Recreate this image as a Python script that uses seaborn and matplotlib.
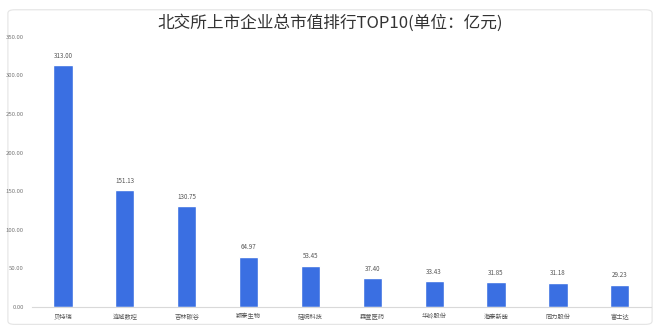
import matplotlib
matplotlib.use("Agg")
import matplotlib.pyplot as plt
import seaborn as sns
import pandas as pd
from matplotlib.patches import FancyBboxPatch

companies = ["贝特瑞", "连城数控", "吉林碳谷", "颖泰生物", "硅烷科技",
             "森萱医药", "华岭股份", "海泰新能", "同力股份", "富士达"]
values = [313.00, 151.13, 130.75, 64.97, 53.45, 37.40, 33.43, 31.85, 31.18, 29.23]
yticks = [0, 50, 100, 150, 200, 250, 300, 350]

sns.set_theme(style="white")
plt.rcParams['font.family'] = ['Noto Sans CJK SC', 'DejaVu Sans']

df = pd.DataFrame({"company": companies, "value": values})

fig = plt.figure(figsize=(6.6, 3.26), dpi=100)
fig.patch.set_facecolor("white")
card = FancyBboxPatch((0.012, 0.005), 0.976, 0.965, boxstyle="round,pad=0,rounding_size=0.01",
                      transform=fig.transFigure, facecolor="none", edgecolor="#e4e4e4",
                      lw=0.8, zorder=-5)
fig.patches.append(card)

ax = fig.add_axes([0.0485, 0.058, 0.9375, 0.829])
sns.barplot(data=df, x="company", y="value", color="#3a6fe2", width=0.31, ax=ax, saturation=1)
ax.set_xlim(-0.5, 9.5)
ax.set_ylim(0, 350)
ax.set_yticks(yticks)
ax.set_yticklabels([f"{v:.2f}" for v in yticks], fontsize=4.3, color="#777777")
ax.set_xticks(range(len(companies)))
ax.set_xticklabels(companies, fontsize=4.5, color="#555555")
ax.tick_params(axis="x", length=0, pad=4)
ax.tick_params(axis="y", length=0, pad=6)
ax.set_xlabel("")
ax.set_ylabel("")
for s in ["top", "right", "left"]:
    ax.spines[s].set_visible(False)
ax.spines["bottom"].set_color("#d9d9d9")
ax.spines["bottom"].set_linewidth(0.8)
ax.patch.set_alpha(0)

for i, v in enumerate(values):
    ax.annotate(f"{v:.2f}", (i, v), xytext=(0, 4), textcoords="offset points",
                ha="center", va="bottom", fontsize=4.5, color="#555555")

fig.text(0.5, 0.93, "北交所上市企业总市值排行TOP10(单位：亿元)", ha="center", va="center",
         fontsize=12, color="#333333")

fig.savefig("out.png", dpi=100)
